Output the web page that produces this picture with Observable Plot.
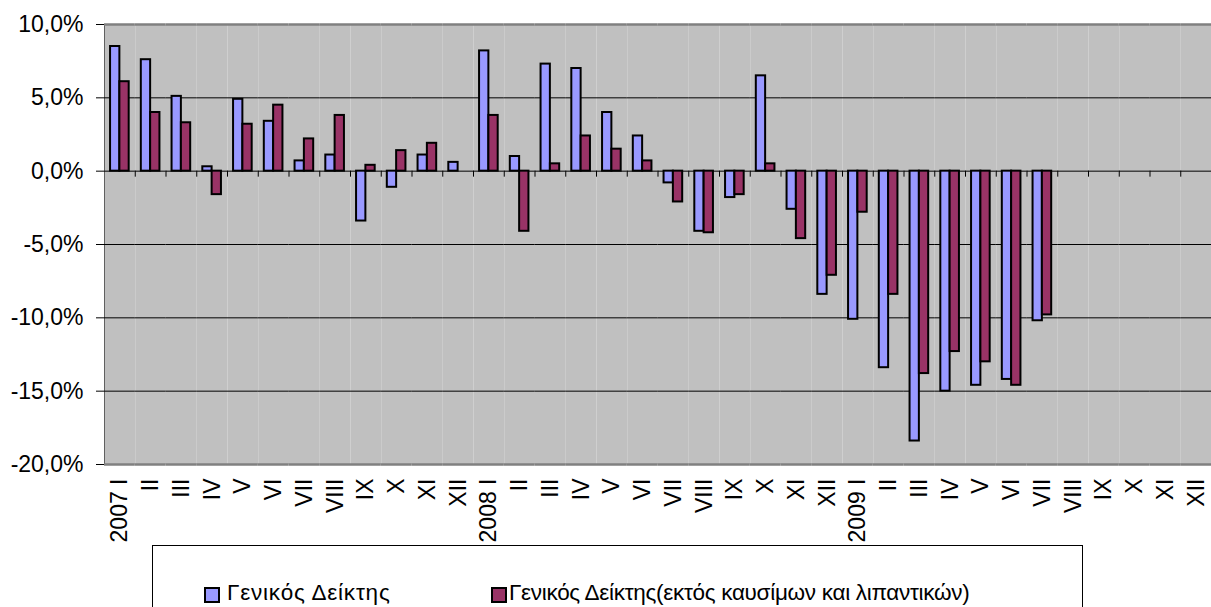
<!DOCTYPE html>
<html><head><meta charset="utf-8">
<script src="https://cdn.jsdelivr.net/npm/d3@7"></script>
<script src="https://cdn.jsdelivr.net/npm/@observablehq/plot@0.6"></script>
<style>
body{margin:0;background:#fff;font-family:"Liberation Sans",Arial,sans-serif;}
#wrap{position:relative;width:1211px;height:607px;overflow:hidden;}
#legend{position:absolute;left:152px;top:545px;width:931px;height:100px;border:1px solid #000;box-sizing:border-box;background:#fff;}
.sw{position:absolute;top:41px;width:12px;height:12px;border:2px solid #000;}
.txt{position:absolute;top:36px;font-size:22.5px;line-height:1;white-space:nowrap;color:#000;}
</style></head><body>
<div id="wrap"><div id="chart"></div><div id="legend"></div></div>
<script>
const years = ["2007", "2008", "2009"];
const months = ["I","II","III","IV","V","VI","VII","VIII","IX","X","XI","XII"];
const seriesNames = ["Γενικός Δείκτης", "Γενικός Δείκτης(εκτός καυσίμων και λιπαντικών)"];
const seriesColors = ["#9999FF", "#993366"];
const generalIndex = [8.5, 7.6, 5.1, 0.3, 4.9, 3.4, 0.7, 1.1, -3.4, -1.1, 1.1, 0.6,
  8.2, 1.0, 7.3, 7.0, 4.0, 2.4, -0.8, -4.1, -1.8, 6.5, -2.6, -8.4,
  -10.1, -13.4, -18.4, -15.0, -14.6, -14.2, -10.2, null, null, null, null, null];
const coreIndex = [6.1, 4.0, 3.3, -1.6, 3.2, 4.5, 2.2, 3.8, 0.4, 1.4, 1.9, null,
  3.8, -4.1, 0.5, 2.4, 1.5, 0.7, -2.1, -4.2, -1.6, 0.5, -4.6, -7.1,
  -2.8, -8.4, -13.8, -12.3, -13.0, -14.6, -9.8, null, null, null, null, null];
const yTicks = [-20, -15, -10, -5, 0, 5, 10];

const keys = [], labels = {};
years.forEach(y => months.forEach((m, i) => {
  const k = y + "-" + m;
  keys.push(k);
  labels[k] = i === 0 ? y + " " + m : m;
}));
const rows = [];
keys.forEach((k, i) => {
  rows.push({key: k, series: seriesNames[0], value: generalIndex[i]});
  rows.push({key: k, series: seriesNames[1], value: coreIndex[i]});
});
const data = rows.filter(d => d.value != null);

const W = 1211, mL = 104, mR = 0;
const facetW = (W - mL - mR) / keys.length;

const chart = Plot.plot({
  width: W,
  height: 545,
  marginLeft: mL,
  marginRight: mR,
  marginTop: 24,
  marginBottom: 81,
  style: {fontFamily: "'Liberation Sans', Arial, sans-serif", fontSize: "23px", background: "transparent", color: "#000"},
  fx: {domain: keys, padding: 0, round: false, label: null, tickRotate: -90, tickSize: 0, tickPadding: 14, tickFormat: k => labels[k]},
  x: {domain: seriesNames, paddingInner: 0, paddingOuter: 0.65, round: false, axis: null},
  y: {domain: [-20, 10], ticks: yTicks, tickSize: 8, tickPadding: 13, label: null, line: true,
      tickFormat: d => d.toFixed(1).replace(".", ",") + "%"},
  color: {domain: seriesNames, range: seriesColors},
  marks: [
    Plot.frame({fill: "#C0C0C0", stroke: "none"}),
    Plot.ruleY(yTicks.slice(1, -1), {stroke: "#000", strokeWidth: 1}),
    Plot.ruleY([yTicks[0], yTicks[yTicks.length - 1]], {stroke: "#808080", strokeWidth: 2.5}),
    Plot.ruleX(keys, {fx: d => d, x: null, y1: () => 0, y2: () => 0, insetBottom: -6, dx: facetW / 2, stroke: "#000", strokeWidth: 1}),
    Plot.barY(data, {fx: "key", x: "series", y: "value", fill: "series", stroke: "#000", strokeWidth: 2})
  ]
});
document.getElementById("chart").appendChild(chart);

const legend = document.getElementById("legend");
const swLeft = [51, 338], txtLeft = [74, 356], spacing = ["0.8px", "-0.3px"];
seriesNames.forEach((n, i) => {
  const sw = document.createElement("div");
  sw.className = "sw";
  sw.style.left = swLeft[i] + "px";
  sw.style.background = seriesColors[i];
  legend.appendChild(sw);
  const t = document.createElement("div");
  t.className = "txt";
  t.style.left = txtLeft[i] + "px";
  t.style.letterSpacing = spacing[i];
  t.textContent = n;
  legend.appendChild(t);
});
</script>
</body></html>
